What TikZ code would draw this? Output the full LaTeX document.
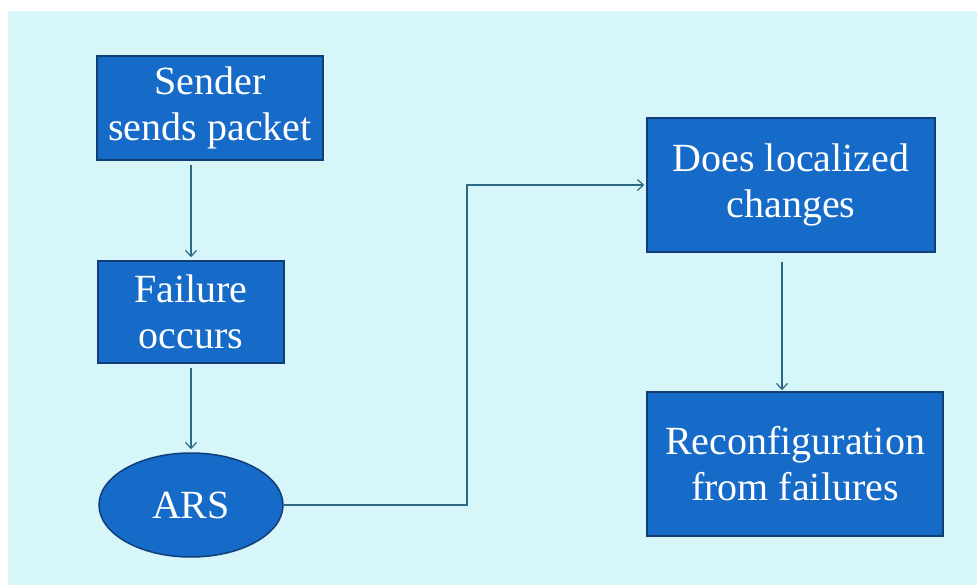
\documentclass[tikz,border=0pt]{standalone}
\usepackage{fontspec}
\setmainfont{Liberation Serif}
\usetikzlibrary{arrows.meta,shapes.geometric,calc}
\definecolor{bgcyan}{RGB}{214,246,250}
\definecolor{boxblue}{RGB}{22,106,200}
\definecolor{boxedge}{RGB}{18,62,120}
\definecolor{arrowcol}{RGB}{45,105,135}
\tikzset{
  stepbox/.style={rectangle, fill=boxblue, draw=boxedge, line width=1.5pt,
    text=white, align=center, inner sep=2pt,
    font=\fontsize{40}{46}\selectfont},
  ovalbox/.style={ellipse, fill=boxblue, draw=boxedge, line width=1.5pt,
    text=white, align=center, inner sep=0pt,
    font=\fontsize{40}{46}\selectfont},
  conn/.style={draw=arrowcol, line width=1.4pt,
    -{Straight Barb[length=6pt,width=11pt,line width=1.2pt]}},
}
\begin{document}
\begin{tikzpicture}[x=1pt,y=-1pt]
\useasboundingbox (0,0) rectangle (977,585);
\fill[white] (0,0) rectangle (977,585);
\fill[bgcyan] (8,11) rectangle (977,585);

\node[stepbox, minimum width=226pt, minimum height=104pt] (sender) at (210,108) {Sender\\sends packet};
\node[stepbox, minimum width=186pt, minimum height=102pt] (failure) at (191,312) {Failure\\occurs};
\node[ovalbox, minimum width=184pt, minimum height=104pt] (ars) at (191,505) {ARS};
\node[stepbox, minimum width=288pt, minimum height=134pt] (does) at (791,185) {Does localized\\changes};
\node[stepbox, minimum width=296pt, minimum height=144pt] (reconf) at (795,464) {Reconfiguration\\from failures};

\coordinate (bend) at (467,505);
\coordinate (dtop) at ([xshift=-9pt]does.south);

\draw[conn, shorten <=4pt, shorten >=3pt] (sender.south -| failure.north) -- (failure.north);
\draw[conn, shorten <=4pt, shorten >=3pt] (failure.south) -- (ars.north);
\draw[conn, shorten >=2pt] (ars.east) -- (bend) |- (does.west);
\draw[conn, shorten <=9pt, shorten >=1pt] (dtop) -- (dtop |- reconf.north);
\end{tikzpicture}
\end{document}
